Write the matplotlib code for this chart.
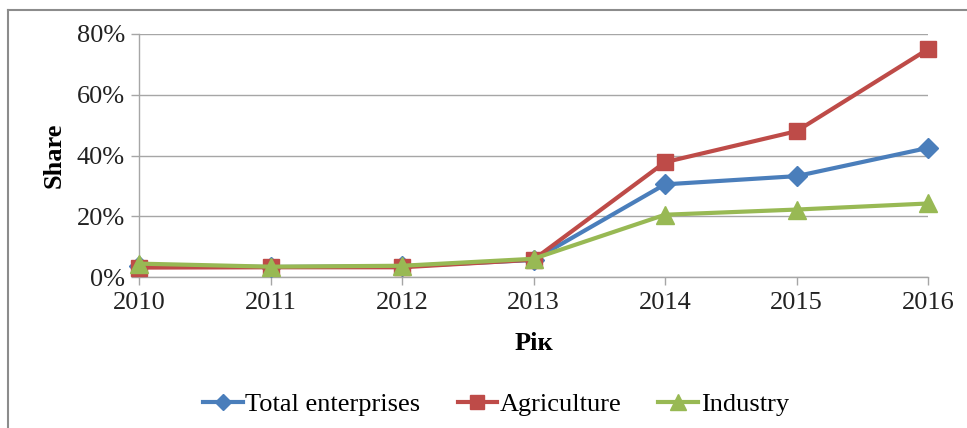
import matplotlib
matplotlib.use("Agg")
import matplotlib.pyplot as plt
from matplotlib.lines import Line2D
from matplotlib.ticker import FuncFormatter

years = [2010, 2011, 2012, 2013, 2014, 2015, 2016]
total = [0.037, 0.033, 0.035, 0.056, 0.305, 0.332, 0.425]
agriculture = [0.031, 0.032, 0.032, 0.057, 0.378, 0.480, 0.750]
industry = [0.044, 0.034, 0.037, 0.060, 0.205, 0.222, 0.242]
series_names = ["Total enterprises", "Agriculture", "Industry"]
y_ticks = [0, 0.2, 0.4, 0.6, 0.8]

plt.rcParams['font.family'] = ['Liberation Serif', 'DejaVu Serif']
FS = 19

fig = plt.figure(figsize=(9.67, 4.28), dpi=100)
ax = fig.add_axes([139/967, 1-277/428, (928-139)/967, (277-34)/428])

colors = ["#4A7EBB", "#BE4B48", "#98B954"]
markers = ["D", "s", "^"]
msizes = [10, 12, 13]
for vals, c, m, ms, name in zip([total, agriculture, industry], colors, markers, msizes, series_names):
    ax.plot(years, vals, color=c, marker=m, markersize=ms, linewidth=3, label=name,
            markeredgecolor=c, clip_on=False, zorder=3)

ax.set_xlim(years[0], years[-1])
ax.set_ylim(0, 0.8)
ax.set_yticks(y_ticks)
ax.yaxis.set_major_formatter(FuncFormatter(lambda v, p: f"{v*100:.0f}%"))
ax.set_xticks(years)
ax.grid(axis='y', color='#A6A6A6', linewidth=1)
ax.set_axisbelow(True)
for s in ['top', 'right']:
    ax.spines[s].set_visible(False)
for s in ['left', 'bottom']:
    ax.spines[s].set_color('#A6A6A6')
    ax.spines[s].set_linewidth(1)
ax.tick_params(axis='both', colors='#A6A6A6', labelcolor='#222222', labelsize=FS, length=6, width=1)
ax.tick_params(axis='x', pad=5)
ax.tick_params(axis='y', pad=4)
ax.set_ylabel("Share", fontsize=FS, fontweight='bold')
ax.set_xlabel("Рік", fontsize=FS, fontweight='bold')
ax.yaxis.set_label_coords(-0.108, 0.502)
ax.xaxis.set_label_coords(0.5006, -0.272)
ax.xaxis.label.set_va('center')
ax.yaxis.label.set_va('center')

handles = [Line2D([0], [0], color=c, marker=m, markersize=ms*0.85, linewidth=3) for c, m, ms in zip(colors, markers, msizes)]
fig.legend(handles, series_names, loc='center', bbox_to_anchor=(496/967, 1-404/428), ncol=3,
           frameon=False, fontsize=FS, handlelength=1.5, handletextpad=0.1, columnspacing=1.4)

# outer border (left and top)
fig.add_artist(Line2D([8/967, 8/967], [0, 1-10/428], transform=fig.transFigure, color='#8C8C8C', linewidth=1.5))
fig.add_artist(Line2D([8/967, 1], [1-10/428, 1-10/428], transform=fig.transFigure, color='#8C8C8C', linewidth=1.5))

fig.savefig("out.png", dpi=100)
